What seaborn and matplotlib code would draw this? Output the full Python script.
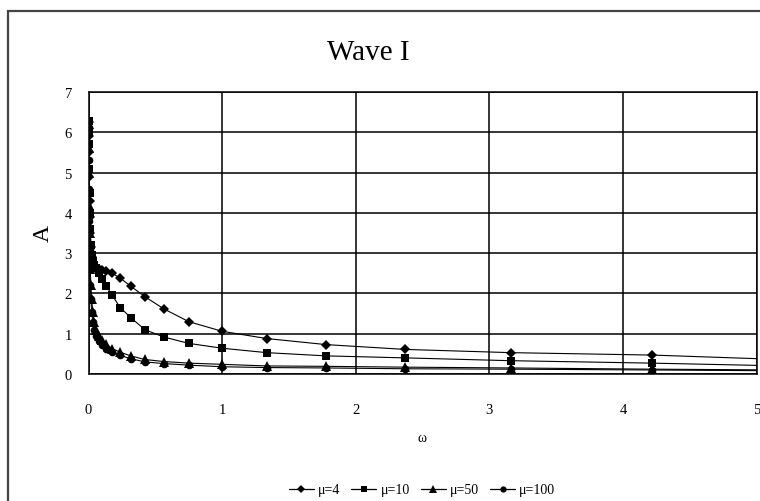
import numpy as np
import pandas as pd
import seaborn as sns
import matplotlib
matplotlib.use("Agg")
import matplotlib.pyplot as plt
from matplotlib.patches import Rectangle
from matplotlib.lines import Line2D

omega = [0.001, 0.002, 0.003, 0.005, 0.0075, 0.01, 0.0133, 0.0178, 0.0237,
         0.0316, 0.042, 0.056, 0.075, 0.1, 0.133, 0.178, 0.237, 0.316, 0.422,
         0.562, 0.75, 1.0, 1.334, 1.778, 2.371, 3.162, 4.217, 5.623]

a_mu4 = [6.25, 5.9, 5.5, 4.9, 4.3, 3.9, 3.5, 3.15, 2.9, 2.75, 2.65, 2.6, 2.6,
         2.58, 2.55, 2.5, 2.38, 2.18, 1.92, 1.62, 1.3, 1.06, 0.88, 0.73, 0.61,
         0.53, 0.47, 0.31]
a_mu10 = [6.28, 6.0, 5.7, 5.1, 4.5, 4.0, 3.6, 3.2, 2.95, 2.8, 2.7, 2.62, 2.5,
          2.36, 2.19, 1.95, 1.65, 1.40, 1.10, 0.92, 0.76, 0.64, 0.53, 0.45,
          0.40, 0.33, 0.27, 0.17]
a_mu50 = [6.2, 5.6, 5.0, 4.2, 3.5, 3.0, 2.6, 2.2, 1.85, 1.55, 1.3, 1.1, 0.95,
          0.85, 0.74, 0.63, 0.54, 0.45, 0.36, 0.31, 0.27, 0.24, 0.2, 0.19,
          0.17, 0.15, 0.12, 0.09]
a_mu100 = [6.1, 5.3, 4.6, 3.8, 3.1, 2.6, 2.2, 1.85, 1.55, 1.3, 1.1, 0.95, 0.82,
           0.72, 0.62, 0.54, 0.46, 0.38, 0.30, 0.26, 0.22, 0.18, 0.16, 0.15,
           0.13, 0.12, 0.10, 0.07]

series_names = ["μ=4", "μ=10", "μ=50", "μ=100"]
series_vals = [a_mu4, a_mu10, a_mu50, a_mu100]
x_ticks = [0, 1, 2, 3, 4, 5]
y_ticks = [0, 1, 2, 3, 4, 5, 6, 7]

df = pd.concat([pd.DataFrame({"omega": omega, "A": v, "series": n})
                for n, v in zip(series_names, series_vals)], ignore_index=True)

sns.set_style("white")
plt.rcParams["font.family"] = ["Liberation Serif", "DejaVu Serif"]
for k in ["text.color", "axes.labelcolor", "xtick.color", "ytick.color"]:
    plt.rcParams[k] = "black"

W, H = 760, 502
fig = plt.figure(figsize=(W / 100, H / 100), dpi=100)
ax = fig.add_axes([88.5 / W, 1 - 375 / H, 668 / W, 282 / H])

markers = {"μ=4": "D", "μ=10": "s", "μ=50": "^", "μ=100": "o"}
msizes = {"μ=4": 5, "μ=10": 6, "μ=50": 6.5, "μ=100": 5.5}

for n in series_names:
    sub = df[df["series"] == n]
    sns.lineplot(data=sub, x="omega", y="A", ax=ax, color="black",
                 marker=markers[n], markersize=msizes[n], markeredgewidth=0,
                 linewidth=0.8, legend=False, sort=True)

ax.set_xlim(0, 5)
ax.set_ylim(0, 7)
ax.set_xticks(x_ticks)
ax.set_yticks(y_ticks)
ax.grid(True, color="black", linewidth=1.1)
ax.set_axisbelow(True)
for s in ax.spines.values():
    s.set_color("black")
    s.set_linewidth(1.1)
ax.tick_params(axis="both", direction="out", length=5, width=1, labelsize=10.5)
ax.tick_params(axis="x", pad=16)
ax.tick_params(axis="y", pad=7)
ax.set_xlabel("ω", fontsize=10, labelpad=11)
ax.set_ylabel("A", fontsize=17, labelpad=8)

fig.text(368 / W, 1 - 53 / H, "Wave I", fontsize=21, ha="center", va="center")

# outer chart frame
fig.patches.append(Rectangle((8 / W, -0.05), 1.1, 1 - 12 / H + 0.05,
                             transform=fig.transFigure, fill=False,
                             edgecolor="#444444", linewidth=1.6))

handles = [Line2D([0], [0], color="black", lw=0.9, marker=markers[n],
                  markersize=msizes[n] - 1, markeredgewidth=0)
           for n in series_names]
fig.legend(handles, series_names, loc="center", bbox_to_anchor=(422 / W, 1 - 491 / H),
           ncol=4, frameon=False, fontsize=10, handlelength=1.8,
           handletextpad=0.3, columnspacing=0.8)

fig.savefig("out.png", dpi=100)
